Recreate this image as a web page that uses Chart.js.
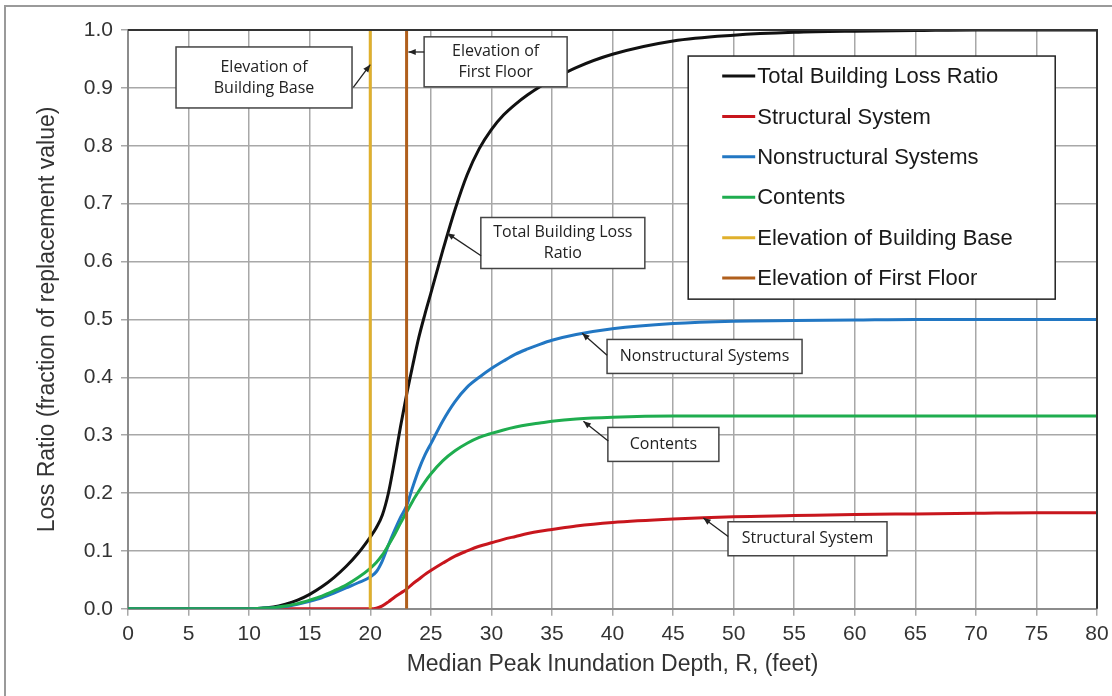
<!DOCTYPE html>
<html>
<head>
<meta charset="utf-8">
<script src="https://cdn.jsdelivr.net/npm/chart.js@4.4.1/dist/chart.umd.min.js"></script>
<style>
  html, body { margin: 0; padding: 0; background: #fff; }
</style>
</head>
<body>
<canvas id="myChart" width="1112" height="696"></canvas>
<script>
// profundidad (pies) y curvas de perdida
const depth = [0, 5, 10, 11, 12, 13, 14, 15, 16, 17, 18, 19, 20, 20.5, 21, 21.5, 22, 22.5, 23, 23.5, 24, 24.5, 25, 26, 27, 28, 29, 30, 31, 32, 33, 34, 35, 37, 40, 45, 50, 55, 60, 65, 70, 75, 80];

const totalLoss = [0, 0, 0, 0.001, 0.003, 0.008, 0.015, 0.025, 0.038, 0.054, 0.073, 0.096, 0.124, 0.14, 0.162, 0.2, 0.255, 0.315, 0.37, 0.42, 0.468, 0.508, 0.545, 0.62, 0.69, 0.75, 0.795, 0.828, 0.853, 0.872, 0.888, 0.902, 0.914, 0.935, 0.958, 0.981, 0.991, 0.996, 0.998, 0.999, 1, 1, 1];

const structural = [0, 0, 0, 0, 0, 0, 0, 0, 0, 0, 0, 0, 0, 0.001, 0.005, 0.012, 0.02, 0.027, 0.034, 0.043, 0.051, 0.059, 0.066, 0.079, 0.091, 0.1, 0.108, 0.114, 0.12, 0.125, 0.13, 0.134, 0.137, 0.143, 0.149, 0.155, 0.159, 0.161, 0.163, 0.164, 0.165, 0.166, 0.166];

const nonstructural = [0, 0, 0, 0.001, 0.002, 0.004, 0.008, 0.013, 0.019, 0.027, 0.036, 0.045, 0.055, 0.064, 0.083, 0.11, 0.135, 0.158, 0.178, 0.21, 0.24, 0.265, 0.285, 0.325, 0.358, 0.383, 0.4, 0.415, 0.428, 0.44, 0.449, 0.457, 0.464, 0.474, 0.484, 0.493, 0.497, 0.498, 0.499, 0.5, 0.5, 0.5, 0.5];

const contents = [0, 0, 0, 0.001, 0.002, 0.005, 0.009, 0.015, 0.022, 0.031, 0.041, 0.054, 0.07, 0.08, 0.093, 0.11, 0.128, 0.148, 0.167, 0.186, 0.203, 0.219, 0.233, 0.256, 0.273, 0.286, 0.296, 0.303, 0.309, 0.314, 0.318, 0.321, 0.324, 0.328, 0.331, 0.333, 0.333, 0.333, 0.333, 0.333, 0.333, 0.333, 0.333];

// lineas verticales de elevacion
const baseElevX = [20, 20];
const floorElevX = [23, 23];
const elevY = [0, 1];

const xTicks = [0, 5, 10, 15, 20, 25, 30, 35, 40, 45, 50, 55, 60, 65, 70, 75, 80];
const yTicks = [0, 0.1, 0.2, 0.3, 0.4, 0.5, 0.6, 0.7, 0.8, 0.9, 1.0];

const seriesLabels = ['Total Building Loss Ratio', 'Structural System', 'Nonstructural Systems', 'Contents', 'Elevation of Building Base', 'Elevation of First Floor'];
const seriesColors = ['#111111', '#c8161d', '#2277c3', '#1fad4f', '#e0b02c', '#b05f1c'];

// notas con flecha (coordenadas en unidades de datos)
const callouts = [
  { lines: ['Elevation of', 'Building Base'], cx: 11.23, cy: 0.918, w: 176, h: 61, fx: 18.6, fy: 0.901, tx: 20, ty: 0.94 },
  { lines: ['Elevation of', 'First Floor'], cx: 30.35, cy: 0.945, w: 143, h: 50, fx: 24.45, fy: 0.962, tx: 23.15, ty: 0.962 },
  { lines: ['Total Building Loss', 'Ratio'], cx: 35.9, cy: 0.632, w: 164, h: 51, fx: 29.15, fy: 0.61, tx: 26.35, ty: 0.649 },
  { lines: ['Nonstructural Systems'], cx: 47.6, cy: 0.436, w: 195, h: 34, fx: 39.55, fy: 0.438, tx: 37.5, ty: 0.476 },
  { lines: ['Contents'], cx: 44.2, cy: 0.284, w: 111, h: 34, fx: 39.65, fy: 0.29, tx: 37.6, ty: 0.324 },
  { lines: ['Structural System'], cx: 56.1, cy: 0.121, w: 159, h: 34, fx: 49.55, fy: 0.125, tx: 47.5, ty: 0.157 }
];

const FONT = 'Arial, "Liberation Sans", sans-serif';

function toPoints(xs, ys) {
  return xs.map((x, i) => ({ x: x, y: ys[i] }));
}

function arrow(ctx, x1, y1, x2, y2) {
  const ang = Math.atan2(y2 - y1, x2 - x1);
  ctx.beginPath();
  ctx.moveTo(x1, y1);
  ctx.lineTo(x2, y2);
  ctx.stroke();
  ctx.beginPath();
  ctx.moveTo(x2, y2);
  ctx.lineTo(x2 - 8 * Math.cos(ang - 0.4), y2 - 8 * Math.sin(ang - 0.4));
  ctx.lineTo(x2 - 8 * Math.cos(ang + 0.4), y2 - 8 * Math.sin(ang + 0.4));
  ctx.closePath();
  ctx.fill();
}

const extras = {
  id: 'extras',
  beforeDraw(chart) {
    const ctx = chart.ctx;
    ctx.save();
    ctx.strokeStyle = '#9a9a9a';
    ctx.lineWidth = 2;
    ctx.strokeRect(5, 6, 1300, 900);
    ctx.restore();
  },
  afterDatasetsDraw(chart) {
    const ctx = chart.ctx;
    const xs = chart.scales.x, ys = chart.scales.y;
    const a = chart.chartArea;
    ctx.save();
    // borde superior y derecho
    ctx.strokeStyle = '#333';
    ctx.lineWidth = 2;
    ctx.beginPath();
    ctx.moveTo(a.left, a.top);
    ctx.lineTo(a.right, a.top);
    ctx.lineTo(a.right, a.bottom);
    ctx.stroke();

    // notas
    ctx.font = '16px "Open Sans"';
    ctx.textAlign = 'center';
    ctx.textBaseline = 'middle';
    callouts.forEach(c => {
      const px = xs.getPixelForValue(c.cx), py = ys.getPixelForValue(c.cy);
      ctx.fillStyle = '#fff';
      ctx.fillRect(px - c.w / 2, py - c.h / 2, c.w, c.h);
      ctx.strokeStyle = '#444';
      ctx.lineWidth = 1.5;
      ctx.strokeRect(px - c.w / 2, py - c.h / 2, c.w, c.h);
      ctx.fillStyle = '#222';
      const lh = 21;
      c.lines.forEach((t, i) => {
        ctx.fillText(t, px, py + (i - (c.lines.length - 1) / 2) * lh);
      });
      ctx.strokeStyle = '#222';
      ctx.lineWidth = 1.3;
      arrow(ctx, xs.getPixelForValue(c.fx), ys.getPixelForValue(c.fy), xs.getPixelForValue(c.tx), ys.getPixelForValue(c.ty));
    });

    // leyenda
    const lx1 = xs.getPixelForValue(46.25), ly1 = ys.getPixelForValue(0.955);
    const lx2 = xs.getPixelForValue(76.55), ly2 = ys.getPixelForValue(0.535);
    ctx.fillStyle = '#fff';
    ctx.fillRect(lx1, ly1, lx2 - lx1, ly2 - ly1);
    ctx.strokeStyle = '#222';
    ctx.lineWidth = 1.5;
    ctx.strokeRect(lx1, ly1, lx2 - lx1, ly2 - ly1);
    ctx.font = '22px ' + FONT;
    ctx.textAlign = 'left';
    seriesLabels.forEach((lab, i) => {
      const y = ly1 + 20 + i * 40.4;
      ctx.strokeStyle = seriesColors[i];
      ctx.lineWidth = 3;
      ctx.beginPath();
      ctx.moveTo(lx1 + 34, y);
      ctx.lineTo(lx1 + 67, y);
      ctx.stroke();
      ctx.fillStyle = '#1a1a1a';
      ctx.fillText(lab, lx1 + 69, y + 1);
    });
    ctx.restore();
  }
};

const allX = [depth, depth, depth, depth, baseElevX, floorElevX];
const allY = [totalLoss, structural, nonstructural, contents, elevY, elevY];
const drawOrder = [5, 4, 3, 2, 1, 0];

const datasets = seriesLabels.map((lab, i) => ({
  label: lab,
  data: toPoints(allX[i], allY[i]),
  borderColor: seriesColors[i],
  borderWidth: 3,
  pointRadius: 0,
  fill: false,
  tension: 0,
  cubicInterpolationMode: i < 4 ? 'monotone' : 'default',
  order: drawOrder[i]
}));

const ctx = document.getElementById('myChart').getContext('2d');
const myChart = new Chart(ctx, {
  type: 'line',
  data: { datasets: datasets },
  plugins: [extras],
  options: {
    responsive: false,
    animation: false,
    layout: { padding: { left: 34, right: 15, top: 30, bottom: 20 } },
    plugins: { legend: { display: false }, tooltip: { enabled: false } },
    scales: {
      x: {
        type: 'linear',
        min: 0,
        max: 80,
        afterBuildTicks: s => { s.ticks = xTicks.map(v => ({ value: v })); },
        afterFit: s => { s.paddingRight = 0; },
        ticks: { color: '#333', font: { size: 21, family: FONT }, padding: 6 },
        grid: { color: '#a8a8a8', lineWidth: 1.5, tickLength: 7 },
        border: { color: '#8c8c8c', width: 2 },
        title: { display: true, text: 'Median Peak Inundation Depth, R, (feet)', color: '#333', font: { size: 23, family: FONT, lineHeight: 1 }, padding: { top: 0, bottom: 0 } }
      },
      y: {
        type: 'linear',
        min: 0,
        max: 1,
        afterBuildTicks: s => { s.ticks = yTicks.map(v => ({ value: v })); },
        afterFit: s => { s.width = 94; },
        ticks: { color: '#333', font: { size: 21, family: FONT }, padding: 8, callback: v => v.toFixed(1) },
        grid: { color: '#a8a8a8', lineWidth: 1.5, tickLength: 7 },
        border: { color: '#8c8c8c', width: 2 },
        title: { display: true, text: 'Loss Ratio (fraction of replacement value)', color: '#333', font: { size: 23, family: FONT }, padding: { top: 0, bottom: 4 } }
      }
    }
  }
});
</script>
</body>
</html>
